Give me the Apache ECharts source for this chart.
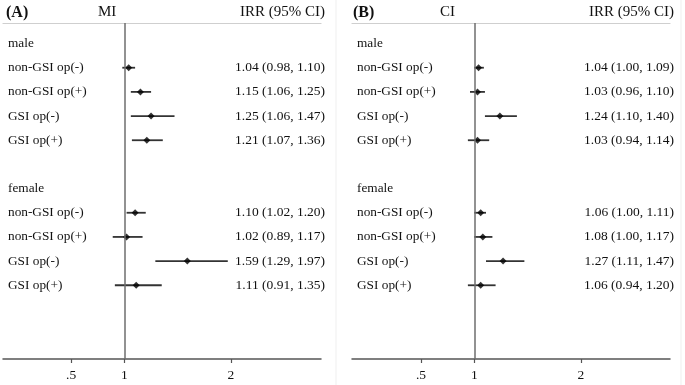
<!DOCTYPE html>
<html>
<head>
<meta charset="utf-8">
<script src="https://cdn.jsdelivr.net/npm/echarts@6/dist/echarts.min.js"></script>
<style>
html, body { margin: 0; padding: 0; background: #fff; }
#main { width: 685px; height: 385px; }
</style>
</head>
<body>
<div id="main"></div>
<script>
// 行标签 (0..10), 空行 5
var rowLabels = ['male', 'non-GSI op(-)', 'non-GSI op(+)', 'GSI op(-)', 'GSI op(+)', '',
    'female', 'non-GSI op(-)', 'non-GSI op(+)', 'GSI op(-)', 'GSI op(+)'];
var rowIndex = [1, 2, 3, 4, 7, 8, 9, 10];
var xTicks = [0.5, 1, 2];

// (A) MI
var miEst = [1.04, 1.15, 1.25, 1.21, 1.10, 1.02, 1.59, 1.11];
var miLow = [0.98, 1.06, 1.06, 1.07, 1.02, 0.89, 1.29, 0.91];
var miHigh = [1.10, 1.25, 1.47, 1.36, 1.20, 1.17, 1.97, 1.35];

// (B) CI
var ciEst = [1.04, 1.03, 1.24, 1.03, 1.06, 1.08, 1.27, 1.06];
var ciLow = [1.00, 0.96, 1.10, 0.94, 1.00, 1.00, 1.11, 0.94];
var ciHigh = [1.09, 1.10, 1.40, 1.14, 1.11, 1.17, 1.47, 1.20];

var FONT = 'Liberation Serif';
var rowValues = [0, 1, 2, 3, 4, 6, 7, 8, 9, 10];

function irrText(est, low, high) {
    var map = {};
    for (var i = 0; i < rowIndex.length; i++) {
        map[rowIndex[i]] = est[i].toFixed(2) + ' (' + low[i].toFixed(2) + ', ' + high[i].toFixed(2) + ')';
    }
    return map;
}

function renderCI(params, api) {
    var a = api.coord([api.value(0), api.value(2)]);
    var b = api.coord([api.value(1), api.value(2)]);
    return {
        type: 'line',
        shape: { x1: a[0], y1: a[1], x2: b[0], y2: b[1] },
        style: { stroke: '#333', lineWidth: 1.8 }
    };
}

function xAxes(gi, min, max) {
    return [{
        gridIndex: gi, type: 'value', position: 'bottom', min: min, max: max,
        axisLine: { onZero: false, lineStyle: { color: '#555', width: 1.5 } },
        axisTick: { show: true, length: 4, customValues: xTicks, lineStyle: { color: '#555', width: 1.2 } },
        axisLabel: {
            customValues: xTicks, margin: 9, color: '#111', fontFamily: FONT, fontSize: 13.5,
            formatter: function (v) { return v == 0.5 ? '.5' : String(v); }
        },
        splitLine: { show: false }
    }, {
        // 表头分隔线
        gridIndex: gi, type: 'value', position: 'top', min: min, max: max,
        axisLine: { onZero: false, lineStyle: { color: '#cfcfcf', width: 1.2 } },
        axisTick: { show: false }, axisLabel: { show: false }, splitLine: { show: false }
    }];
}

function yAxes(gi, rightMap) {
    var base = { gridIndex: gi, type: 'value', inverse: true, min: -0.85, max: 13.05,
        axisLine: { show: false, onZero: false }, axisTick: { show: false }, splitLine: { show: false } };
    var left = echarts.util.merge({
        position: 'left',
        axisLabel: {
            inside: true, margin: 5, customValues: rowValues, color: '#111', fontFamily: FONT, fontSize: 13.3,
            formatter: function (v) { return rowLabels[v] || ''; }
        }
    }, base, true);
    var right = echarts.util.merge({
        position: 'right',
        axisLabel: {
            inside: true, margin: -4, customValues: rowIndex, color: '#111', fontFamily: FONT, fontSize: 13.5,
            formatter: function (v) { return rightMap[v] || ''; }
        }
    }, base, true);
    return [left, right];
}

function panelSeries(gi, est, low, high) {
    var ciData = [], ptData = [];
    for (var i = 0; i < est.length; i++) {
        ciData.push([low[i], high[i], rowIndex[i]]);
        ptData.push([est[i], rowIndex[i]]);
    }
    return [{
        type: 'custom', xAxisIndex: gi * 2, yAxisIndex: gi * 2, silent: true,
        renderItem: renderCI, data: ciData, z: 3,
        markLine: {
            silent: true, symbol: 'none', label: { show: false },
            lineStyle: { color: '#6e6e6e', width: 1.5, type: 'solid' },
            data: [{ xAxis: 1 }]
        }
    }, {
        type: 'scatter', xAxisIndex: gi * 2, yAxisIndex: gi * 2, silent: true,
        symbol: 'diamond', symbolSize: 7, itemStyle: { color: '#000' },
        data: ptData, z: 4
    }];
}

var myChart = echarts.init(document.getElementById('main'), null, { renderer: 'canvas' });
var titleStyle = { fontFamily: FONT, fontSize: 15, fontWeight: 'normal', color: '#111' };
var option = {
    backgroundColor: '#fff',
    animation: false,
    title: [
        { text: '(A)', left: 6, top: 5, padding: 0, textStyle: { fontFamily: FONT, fontSize: 16, fontWeight: 'bold', color: '#111' } },
        { text: 'MI', left: 98, top: 5, padding: 0, textStyle: titleStyle },
        { text: 'IRR (95% CI)', right: 360, top: 5, padding: 0, textStyle: titleStyle },
        { text: '(B)', left: 353, top: 5, padding: 0, textStyle: { fontFamily: FONT, fontSize: 16, fontWeight: 'bold', color: '#111' } },
        { text: 'CI', left: 440, top: 5, padding: 0, textStyle: titleStyle },
        { text: 'IRR (95% CI)', right: 11, top: 5, padding: 0, textStyle: titleStyle }
    ],
    graphic: [
        { type: 'line', shape: { x1: 336, y1: 0, x2: 336, y2: 385 }, style: { stroke: '#efefef', lineWidth: 1 } },
        { type: 'line', shape: { x1: 681, y1: 0, x2: 681, y2: 385 }, style: { stroke: '#efefef', lineWidth: 1 } }
    ],
    grid: [
        { left: 3, top: 23, width: 318, height: 336 },
        { left: 352, top: 23, width: 318, height: 336 }
    ],
    xAxis: xAxes(0, -0.14, 2.845).concat(xAxes(1, -0.147, 2.836)),
    yAxis: yAxes(0, irrText(miEst, miLow, miHigh)).concat(yAxes(1, irrText(ciEst, ciLow, ciHigh))),
    series: panelSeries(0, miEst, miLow, miHigh).concat(panelSeries(1, ciEst, ciLow, ciHigh))
};
myChart.setOption(option);
</script>
</body>
</html>
